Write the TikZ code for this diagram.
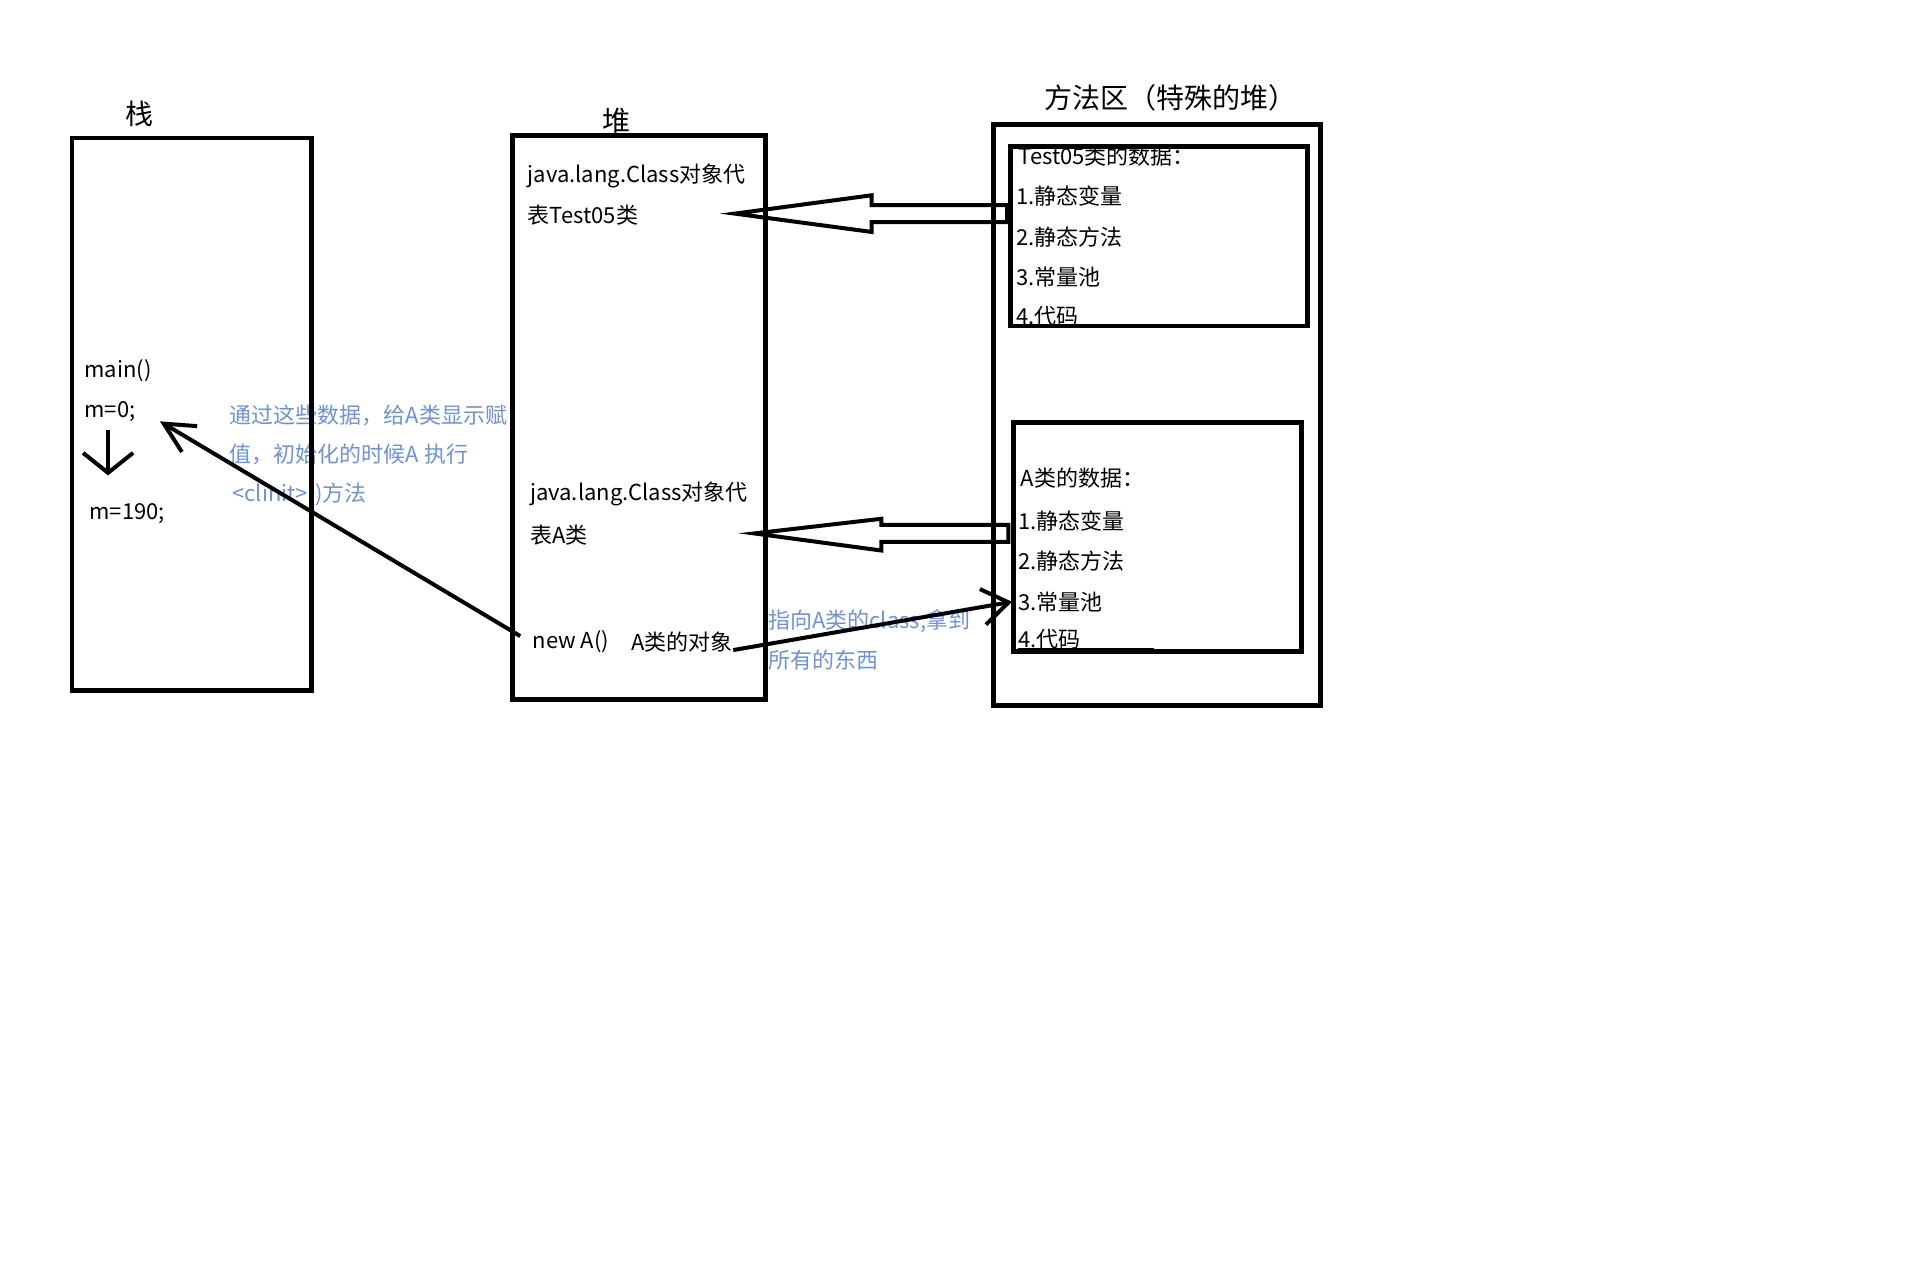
\documentclass[tikz,border=0pt]{standalone}
\usepackage{fontspec}
\setmainfont{Noto Sans CJK SC}
\usetikzlibrary{arrows.meta}

\definecolor{notes}{RGB}{112,146,208}

\tikzset{
  box/.style={line width=2.4pt},
  txt/.style={anchor=west, inner sep=0pt, font=\fontsize{11}{13}\selectfont},
  title/.style={inner sep=0pt, font=\fontsize{14}{16}\selectfont},
  note/.style={txt, text=notes},
  hollow/.style={line width=2pt, line join=miter},
  pointer/.style={line width=2pt, -{Straight Barb[length=15pt,width=15pt]}},
}

\begin{document}
\begin{tikzpicture}[x=0.61035pt, y=-0.61035pt]
    % Fläche wie das Original (1568 x 1047)
    \fill[white] (0,0) rectangle (1568,1047);
    \useasboundingbox (0,0) rectangle (1568,1047);

    % Überschriften
    \node[title] (stacktitle) at (114,93) {栈};
    \node[title] (heaptitle) at (505,99) {堆};
    \node[title] (methtitle) at (959,80) {方法区（特殊的堆）};

    % Stack
    \node[txt] (mainm) at (69,304) {main()};
    \node[txt] (m0) at (69,337) {m=0;};
    \node[txt] (m190) at (73,421) {m=190;};

    % Heap
    \node[txt] (cls1) at (432,144) {java.lang.Class对象代};
    \node[txt] (cls1b) at (432,176) {表Test05类};
    \node[txt] (cls2) at (434,405) {java.lang.Class对象代};
    \node[txt] (cls2b) at (434,438) {表A类};
    \node[txt] (newa) at (436,526) {new A()};
    \node[txt] (newobj) at (517,526) {A类的对象};

    % Methodenbereich: Test05
    \node[txt] (t05head) at (834,128) {Test05类的数据：};
    \node[txt] (t05var) at (832,161) {1.静态变量};
    \node[txt] (t05meth) at (832,194) {2.静态方法};
    \node[txt] (t05pool) at (832,227) {3.常量池};
    \node[txt] (t05code) at (832,259) {4.代码};

    % Methodenbereich: A
    \node[txt] (ahead) at (836,392) {A类的数据：};
    \node[txt] (avar) at (834,427) {1.静态变量};
    \node[txt] (ameth) at (834,460) {2.静态方法};
    \node[txt] (apool) at (834,493) {3.常量池};
    \node[txt] (acode) at (834,524) {4.代码};
    \draw[line width=0.6pt] (834,531) -- (945,531);

    % Hinweise
    \node[note] (note1) at (188,340) {通过这些数据，给A类显示赋};
    \node[note] (note2) at (188,372) {值，初始化的时候A 执行};
    \node[note] (note3) at (190,405) {<clinit>()方法};
    \node[note] (note4) at (629,509) {指向A类的class,拿到};
    \node[note] (note5) at (629,541) {所有的东西};

    % Rahmen
    \draw[box] (59,113) rectangle (255,566);
    \draw[box] (420,111) rectangle (627,573);
    \draw[box] (814,102) rectangle (1082,578);
    \draw[box] (828,120) rectangle (1071,267);
    \draw[box] (830,346) rectangle (1066,534);

    % Hohlpfeile
    \coordinate (tip1) at (602,175);
    \coordinate (tip2) at (618,437);
    \draw[hollow] (tip1) -- ++(112,-15) -- ++(0,8) -- ++(111,0) -- ++(0,14)
        -- ++(-111,0) -- ++(0,8) -- cycle;
    \draw[hollow] (tip2) -- ++(104,-12) -- ++(0,5) -- ++(104,0) -- ++(0,14)
        -- ++(-104,0) -- ++(0,7) -- cycle;

    % Pfeile
    \draw[pointer, -{Straight Barb[length=10pt,width=25pt]}]
        ([xshift=-1pt,yshift=-4pt]m0.south) -- ([xshift=-1pt,yshift=14pt]m0.south |- m190.north);
    \draw[pointer] ([xshift=-6pt,yshift=3pt]newa.west) -- ([xshift=12pt,yshift=-5pt]m0.east);
    \draw[pointer, -{Straight Barb[length=13pt,width=18pt]}]
        ([yshift=-4pt]newobj.east) -- ([xshift=-3pt]apool.west);

\end{tikzpicture}
\end{document}
